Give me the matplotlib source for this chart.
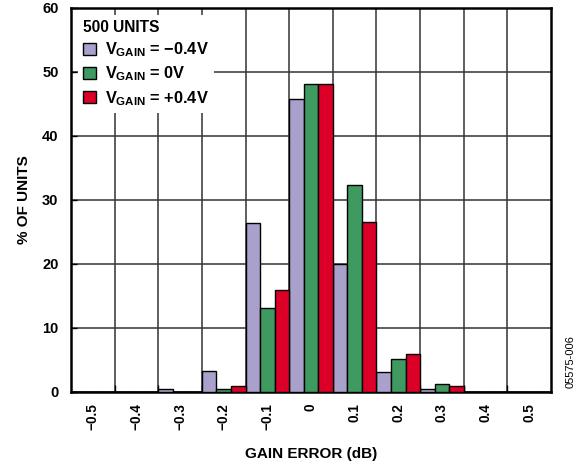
import numpy as np
import matplotlib
matplotlib.use("Agg")
import matplotlib.pyplot as plt
from matplotlib.patches import Patch

# gain error bins (dB) and % of units for each VGAIN setting
bins = ["−0.5", "−0.4", "−0.3", "−0.2", "−0.1", "0", "0.1", "0.2", "0.3", "0.4", "0.5"]
vgain_neg = [0, 0, 0.4, 3.3, 26.4, 45.8, 20.0, 3.1, 0.5, 0, 0]
vgain_zero = [0, 0, 0, 0.4, 13.1, 48.1, 32.3, 5.1, 1.2, 0, 0]
vgain_pos = [0, 0, 0, 0.9, 16.0, 48.1, 26.6, 5.9, 1.0, 0, 0]
series_labels = [r"$V_{GAIN}$ = −0.4V", r"$V_{GAIN}$ = 0V", r"$V_{GAIN}$ = +0.4V"]
legend_title = "500 UNITS"

colors = ["#a9a0cc", "#3f9a62", "#dc0028"]

plt.rcParams["font.family"] = ["Liberation Sans", "DejaVu Sans"]
plt.rcParams["font.weight"] = "bold"
plt.rcParams["mathtext.fontset"] = "custom"
plt.rcParams["mathtext.rm"] = "Liberation Sans:bold"
plt.rcParams["mathtext.it"] = "Liberation Sans:bold"
plt.rcParams["mathtext.bf"] = "Liberation Sans:bold"

fig = plt.figure(figsize=(5.78, 4.67), dpi=100)
ax = fig.add_axes([0.1228, 0.1606, 0.8305, 0.8223])

x = np.arange(len(bins))
w = 1 / 3
for k, (vals, c) in enumerate(zip([vgain_neg, vgain_zero, vgain_pos], colors)):
    ax.bar(x + (k - 1) * w, vals, width=w, color=c, edgecolor="black",
           linewidth=1.0, zorder=3)

ax.set_xlim(-0.5, len(bins) - 0.5)
ax.set_ylim(0, 60)
ax.set_yticks(np.arange(0, 61, 10))
ax.set_xticks(x)
ax.set_xticklabels(bins, rotation=90, fontsize=9.8, fontweight="bold")
ax.set_xticks(np.arange(0.5, len(bins) - 1, 1), minor=True)
ax.tick_params(axis="x", which="major", length=0, pad=8)
ax.tick_params(axis="x", which="minor", direction="in", length=5, width=1)
ax.tick_params(axis="y", direction="in", length=4, width=1, labelsize=10.5, pad=9)
for t in ax.get_yticklabels():
    t.set_fontweight("bold")

ax.grid(True, axis="x", which="minor", color="#333333", linewidth=1.1, zorder=0)
ax.grid(True, axis="y", which="major", color="#333333", linewidth=1.1, zorder=0)
ax.set_axisbelow(True)
for s in ax.spines.values():
    s.set_linewidth(1.8)

ax.set_xlabel("GAIN ERROR (dB)", fontsize=11, fontweight="bold", labelpad=12)
ax.set_ylabel("% OF UNITS", fontsize=11, fontweight="bold", labelpad=8)

handles = [Patch(facecolor=c, edgecolor="black", linewidth=1.0) for c in colors]
leg = ax.legend(handles, series_labels, title=legend_title, loc="upper left",
                bbox_to_anchor=(0.0, 1.0), fontsize=11.8,
                title_fontproperties={"weight": "bold", "size": 11.2},
                frameon=True, fancybox=False, framealpha=1, edgecolor="white",
                handlelength=0.8, handleheight=0.8, handletextpad=0.5,
                labelspacing=0.33, borderpad=0.35, borderaxespad=0.4,
                alignment="left")
leg.get_frame().set_linewidth(0)
leg.set_zorder(5)

fig.text(0.987, 0.225, "05575-006", rotation=90, fontsize=8, fontweight="normal",
         ha="center", va="center")

fig.savefig("out.png", dpi=100)
